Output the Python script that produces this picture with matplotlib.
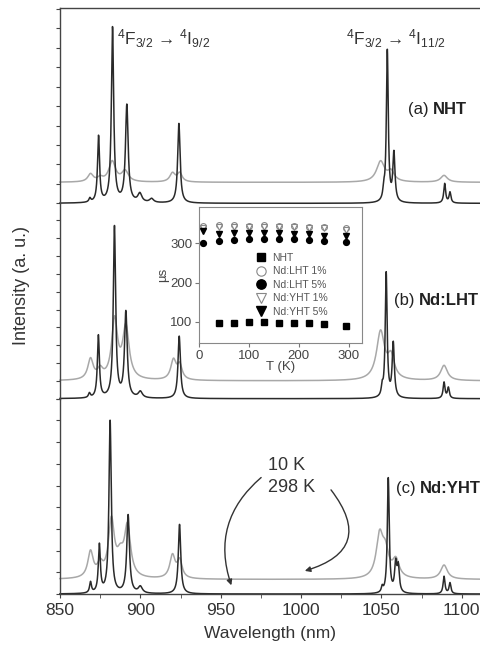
import numpy as np
import matplotlib
matplotlib.use("Agg")
import matplotlib.pyplot as plt

plt.rcParams['font.family'] = ['Liberation Sans', 'DejaVu Sans']
plt.rcParams['mathtext.fontset'] = 'custom'
plt.rcParams['mathtext.rm'] = 'Liberation Sans'
plt.rcParams['mathtext.it'] = 'Liberation Sans:italic'
plt.rcParams['mathtext.bf'] = 'Liberation Sans:bold'

# emission peaks: (centre nm, height in panel units, half width nm)
nht_10k = [(868.6, 0.2, 0.7), (874.0, 3.4, 0.75), (882.7, 9.0, 0.85), (891.6, 5.0, 1.0),
           (899.7, 0.45, 1.5), (907.0, 0.2, 1.5), (924.0, 4.1, 0.9),
           (1051.5, 0.5, 0.6), (1053.7, 7.8, 0.7), (1057.8, 2.5, 0.8),
           (1089.4, 1.0, 0.7), (1092.7, 0.55, 0.7)]
nht_298k = [(869.0, 0.4, 2.0), (875.0, 0.2, 2.0), (882.5, 1.05, 2.5), (890.5, 0.55, 2.5),
            (920.0, 0.45, 2.0), (924.5, 0.45, 1.8), (1049.5, 1.05, 3.0), (1056.0, 0.5, 2.5),
            (1089.0, 0.35, 2.5)]
lht_10k = [(868.3, 0.25, 0.7), (873.9, 3.5, 0.75), (883.9, 9.6, 0.85), (891.0, 4.8, 1.0),
           (900.0, 0.35, 1.5), (924.2, 3.5, 0.9),
           (1050.5, 0.5, 0.6), (1053.0, 7.0, 0.7), (1057.4, 3.05, 0.8),
           (1089.0, 0.9, 0.7), (1091.7, 0.6, 0.7)]
lht_298k = [(869.0, 1.15, 2.0), (875.0, 0.5, 2.0), (884.0, 3.3, 2.2), (891.0, 2.9, 2.4),
            (920.6, 1.1, 2.0), (924.5, 0.8, 1.8), (1049.5, 2.7, 3.0), (1056.0, 1.2, 2.5),
            (1089.0, 0.85, 2.5)]
yht_10k = [(869.0, 0.5, 0.7), (874.5, 2.2, 0.75), (881.2, 7.95, 0.85), (892.4, 3.6, 1.0),
           (900.0, 0.3, 1.5), (924.4, 3.2, 0.9),
           (1050.5, 0.25, 0.6), (1054.3, 5.3, 0.7), (1058.9, 1.3, 0.8), (1060.5, 1.15, 0.8),
           (1089.0, 0.8, 0.7), (1092.7, 0.5, 0.7)]
yht_298k = [(869.0, 1.2, 2.0), (875.0, 0.55, 2.0), (882.0, 2.6, 2.2), (887.5, 0.8, 2.5),
            (892.0, 2.3, 2.3), (920.0, 1.05, 2.0), (924.5, 0.8, 1.8),
            (1048.9, 1.9, 2.5), (1052.5, 1.1, 2.5), (1059.0, 0.8, 2.5), (1089.0, 0.65, 2.5)]
offsets_298k = [1.08, 1.0, 0.67]
panel_tops = [10.05, 10.96, 9.0]
panel_names = ['NHT', 'Nd:LHT', 'Nd:YHT']
panel_tags = ['(a)', '(b)', '(c)']

# lifetimes for the inset (microseconds)
T_nht = [40, 70, 100, 130, 160, 190, 220, 250, 295]
tau_nht = [98, 98, 100, 99, 98, 97, 96, 95, 88]
T_nd = [8, 40, 70, 100, 130, 160, 190, 220, 250, 295]
tau_lht1 = [344, 346, 346, 344, 346, 345, 345, 342, 343, 338]
tau_lht5 = [302, 307, 309, 312, 312, 312, 310, 309, 307, 303]
tau_yht1 = [339, 342, 343, 341, 343, 342, 342, 339, 340, 335]
tau_yht5 = [331, 325, 327, 327, 326, 326, 325, 323, 320, 320]


def spectrum(x, peaks):
    y = np.zeros_like(x)
    for c, h, w in peaks:
        y += h / (1 + ((x - c) / w) ** 2)
    return y


wl = np.linspace(850, 1112, 6000)
fig = plt.figure(figsize=(4.81, 6.49), dpi=100)
left, right, top, bottom = 0.1247, 1.0, 0.9877, 0.0847
h = (top - bottom) / 3
axes = []
pairs = [(nht_10k, nht_298k), (lht_10k, lht_298k), (yht_10k, yht_298k)]
for i, (cold, warm) in enumerate(pairs):
    ax = fig.add_axes([left, top - (i + 1) * h, right - left, h])
    ax.set_facecolor('none')
    ax.plot(wl, spectrum(wl, warm) + offsets_298k[i], color='#a8a8a8', lw=1.1, clip_on=False)
    ax.plot(wl, spectrum(wl, cold), color='#2a2a2a', lw=1.1, clip_on=False)
    ax.set_xlim(850, 1112)
    ax.set_ylim(0, panel_tops[i])
    ax.set_yticks(np.arange(0, int(panel_tops[i]) + 1))
    ax.set_yticklabels([])
    ax.spines['right'].set_visible(False)
    if i > 0:
        ax.spines['top'].set_visible(False)
    if i < 2:
        ax.spines['bottom'].set_visible(False)
        ax.tick_params(axis='x', bottom=False, labelbottom=False)
    for s in ax.spines.values():
        s.set_color('#444444')
        s.set_linewidth(1.0)
    ax.tick_params(axis='y', direction='out', length=3, color='#444444')
    axes.append(ax)

ax_a, ax_b, ax_c = axes
ax_c.set_xticks([850, 900, 950, 1000, 1050, 1100])
ax_c.set_xticks([875, 925, 975, 1025, 1075], minor=True)
ax_c.tick_params(axis='x', which='both', direction='out', length=3, labelsize=12.5,
                 color='#444444', labelcolor='#333333')
ax_c.set_xlabel('Wavelength (nm)', fontsize=12.5, color='#333333', labelpad=6)
fig.text(0.045, 1 - 286 / 649, 'Intensity (a. u.)', rotation=90, fontsize=13,
         color='#333333', ha='center', va='center')

ax_a.text(885.5, 8.15, r'$^4$F$_{3/2}$ → $^4$I$_{9/2}$', fontsize=12.5, color='#333333',
          va='baseline')
ax_a.text(1027.7, 8.15, r'$^4$F$_{3/2}$ → $^4$I$_{11/2}$', fontsize=12.5, color='#333333',
          va='baseline')

label_pos = [(1066.3, 4.82), (1057.6, 5.5), (1058.8, 4.88)]
for ax, tag, name, (lx, ly) in zip(axes, panel_tags, panel_names, label_pos):
    t = ax.text(lx, ly, tag, fontsize=12, color='#222222', va='center')
    ax.annotate(name, xy=(1, 0.5), xycoords=t, xytext=(3.3, 0), textcoords='offset points',
                fontsize=12, fontweight='bold', color='#222222', va='center',
                annotation_clip=False)

ax_c.text(979.7, 5.94, '10 K', fontsize=13, color='#333333', va='center')
ax_c.text(979.7, 4.93, '298 K', fontsize=13, color='#333333', va='center')
ax_c.annotate('', xy=(957.2, 0.28), xytext=(976.5, 5.45),
              arrowprops=dict(arrowstyle='-|>', color='#333333', lw=1.0, mutation_scale=8,
                              connectionstyle='arc3,rad=0.35'))
ax_c.annotate('', xy=(1000.7, 1.03), xytext=(1017.6, 4.9),
              arrowprops=dict(arrowstyle='-|>', color='#333333', lw=1.0, mutation_scale=8,
                              connectionstyle='arc3,rad=-0.75'))

# inset
ins = fig.add_axes([199.3 / 481, 1 - 343.3 / 649, 162.7 / 481, 136 / 649])
ins.set_facecolor('white')
ms = 4.2
ins.plot(T_nht, tau_nht, 's', color='black', ms=ms * 0.9, label='NHT')
ins.plot(T_nd, tau_lht1, 'o', mfc='white', mec='#888888', ms=ms, mew=0.8, label='Nd:LHT 1%')
ins.plot(T_nd, tau_lht5, 'o', color='black', ms=ms, label='Nd:LHT 5%')
ins.plot(T_nd, tau_yht1, 'v', mfc='white', mec='#888888', ms=ms, mew=0.8, label='Nd:YHT 1%')
ins.plot(T_nd, tau_yht5, 'v', color='black', ms=ms, label='Nd:YHT 5%')
ins.set_xlim(0, 327)
ins.set_ylim(45, 392)
ins.set_xticks([0, 100, 200, 300])
ins.set_yticks([100, 200, 300])
ins.tick_params(direction='out', length=3, labelsize=9.5, color='#777777',
                labelcolor='#444444', pad=2)
for s in ins.spines.values():
    s.set_color('#888888')
ins.set_xlabel('T (K)', fontsize=9.5, color='#444444', labelpad=-1)
ins.set_ylabel('µs', fontsize=9.5, color='#444444', labelpad=1)
ins.legend(loc='center left', bbox_to_anchor=(0.29, 0.43), frameon=False, fontsize=7.5,
           handlelength=1.0, handletextpad=0.6, labelspacing=0.35, markerscale=1.6,
           labelcolor='#555555')

fig.savefig('out.png', dpi=100)
